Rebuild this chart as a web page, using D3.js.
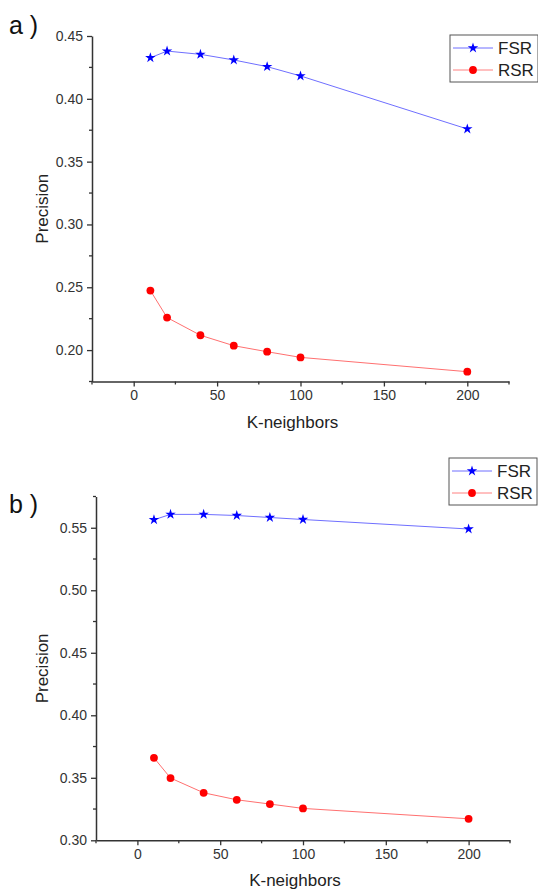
<!DOCTYPE html>
<html>
<head>
<meta charset="utf-8">
<script src="https://cdn.jsdelivr.net/npm/d3@7"></script>
<style>
  html, body { margin: 0; padding: 0; background: #fff; }
  svg { display: block; font-family: "Liberation Sans", Arial, sans-serif; }
</style>
</head>
<body>
<svg id="chart" width="538" height="892"></svg>
<script>
const kValues = [10, 20, 40, 60, 80, 100, 200];
const fsrA = [0.4327, 0.4380, 0.4354, 0.4309, 0.4256, 0.4182, 0.3760];
const rsrA = [0.2474, 0.2259, 0.2118, 0.2035, 0.1987, 0.1942, 0.1828];
const fsrB = [0.5564, 0.5607, 0.5607, 0.5598, 0.5582, 0.5566, 0.5490];
const rsrB = [0.3660, 0.3498, 0.3380, 0.3324, 0.3290, 0.3255, 0.3172];
const xTicks = [0, 50, 100, 150, 200];
const yTicksA = [0.20, 0.25, 0.30, 0.35, 0.40, 0.45];
const yTicksB = [0.30, 0.35, 0.40, 0.45, 0.50, 0.55];
const seriesNames = ["FSR", "RSR"];

const svg = d3.select("#chart");
const axisColor = "#333";

function panel(cfg) {
  const g = svg.append("g");
  const x = d3.scaleLinear().domain([-25, 225]).range([cfg.x0, cfg.x1]);
  const y = d3.scaleLinear().domain(cfg.yDomain).range([cfg.yBottom, cfg.yTop]);

  // minor ticks
  const xMinor = d3.range(-25, 226, 25).filter(v => !xTicks.includes(v));
  g.selectAll(".xm").data(xMinor).enter().append("line")
    .attr("x1", d => x(d)).attr("x2", d => x(d))
    .attr("y1", cfg.yBottom).attr("y2", cfg.yBottom + 3)
    .attr("stroke", axisColor).attr("stroke-width", 1.3);
  const yMinor = d3.range(Math.round(cfg.yDomain[0] * 1000), Math.round(cfg.yDomain[1] * 1000) + 1, 25)
    .map(v => v / 1000)
    .filter(v => !cfg.yTicks.some(t => Math.abs(t - v) < 1e-6));
  g.selectAll(".ym").data(yMinor).enter().append("line")
    .attr("y1", d => y(d)).attr("y2", d => y(d))
    .attr("x1", cfg.x0).attr("x2", cfg.x0 - 3)
    .attr("stroke", axisColor).attr("stroke-width", 1.3);

  const xAxis = d3.axisBottom(x).tickValues(xTicks).tickSize(5).tickSizeOuter(0).tickPadding(4)
    .tickFormat(d3.format("d"));
  const gx = g.append("g").attr("transform", `translate(0,${cfg.yBottom})`).call(xAxis);
  const yAxis = d3.axisLeft(y).tickValues(cfg.yTicks).tickSize(5).tickSizeOuter(0).tickPadding(4)
    .tickFormat(d3.format(".2f"));
  const gy = g.append("g").attr("transform", `translate(${cfg.x0},0)`).call(yAxis);
  [gx, gy].forEach(a => {
    a.select(".domain").attr("stroke", axisColor).attr("stroke-width", 1.5);
    a.selectAll(".tick line").attr("stroke", axisColor).attr("stroke-width", 1.3);
    a.selectAll(".tick text").attr("fill", "#333").style("font-size", "14px");
  });

  // axis titles
  g.append("text").attr("x", (cfg.x0 + cfg.x1) / 2 - 8).attr("y", cfg.yBottom + 46)
    .attr("text-anchor", "middle").attr("fill", "#222").style("font-size", "17px").text("K-neighbors");
  g.append("text")
    .attr("transform", `translate(48,${(cfg.yTop + cfg.yBottom) / 2}) rotate(-90)`)
    .attr("text-anchor", "middle").attr("fill", "#222").style("font-size", "17px").text("Precision");

  // panel label
  g.append("text").attr("x", 9).attr("y", cfg.labelY).attr("fill", "#111")
    .style("font-size", "25px").text(cfg.label);

  const line = d3.line().x((d, i) => x(kValues[i])).y(d => y(d));
  g.append("path").datum(cfg.fsr).attr("d", line).attr("fill", "none")
    .attr("stroke", "#6f6fff").attr("stroke-width", 1);
  g.append("path").datum(cfg.rsr).attr("d", line).attr("fill", "none")
    .attr("stroke", "#ff7070").attr("stroke-width", 1);
  const star = d3.symbol().type(d3.symbolStar).size(34);
  g.selectAll(".fsr").data(cfg.fsr).enter().append("path")
    .attr("d", star).attr("fill", "#0000ff")
    .attr("transform", (d, i) => `translate(${x(kValues[i])},${y(d)})`);
  g.selectAll(".rsr").data(cfg.rsr).enter().append("circle")
    .attr("cx", (d, i) => x(kValues[i])).attr("cy", d => y(d)).attr("r", 3.9).attr("fill", "#ff0000");

  // legend
  const lg = g.append("g").attr("transform", `translate(${cfg.legX},${cfg.legY})`);
  lg.append("rect").attr("x", 0).attr("y", 0).attr("width", 88).attr("height", 47)
    .attr("fill", "#fff").attr("stroke", "#555").attr("stroke-width", 1);
  seriesNames.forEach((name, i) => {
    const cy = 13 + i * 22;
    lg.append("line").attr("x1", 3).attr("x2", 43).attr("y1", cy).attr("y2", cy)
      .attr("stroke", i === 0 ? "#6f6fff" : "#ff8080").attr("stroke-width", 1);
    if (i === 0) {
      lg.append("path").attr("d", star).attr("fill", "#0000ff").attr("transform", `translate(23,${cy})`);
    } else {
      lg.append("circle").attr("cx", 23).attr("cy", cy).attr("r", 3.9).attr("fill", "#ff0000");
    }
    lg.append("text").attr("x", 48).attr("y", cy + 6).attr("fill", "#222")
      .style("font-size", "17px").text(name);
  });
}

panel({
  x0: 92, x1: 509, yTop: 36, yBottom: 381.5, yDomain: [0.175, 0.45],
  yTicks: yTicksA, fsr: fsrA, rsr: rsrA, label: "a )", labelY: 34,
  legX: 450, legY: 35
});
panel({
  x0: 96, x1: 510, yTop: 496.5, yBottom: 840.3, yDomain: [0.30, 0.575],
  yTicks: yTicksB, fsr: fsrB, rsr: rsrB, label: "b )", labelY: 513,
  legX: 449, legY: 458
});
</script>
</body>
</html>
